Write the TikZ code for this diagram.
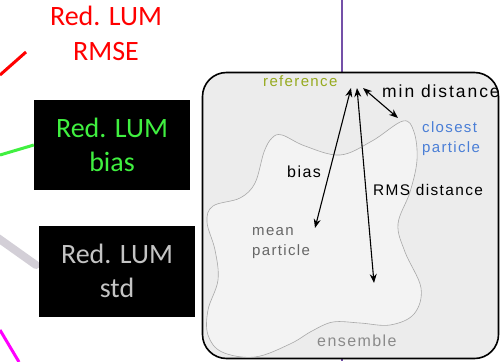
\documentclass[tikz,border=0pt]{standalone}
\usepackage{fontspec}
\setmainfont{Liberation Sans}
\newfontfamily\calib{Carlito}
\newfontfamily\spaced[LetterSpace=9]{Liberation Sans}
\newfontfamily\wide[LetterSpace=11]{Liberation Sans}
\usetikzlibrary{arrows.meta}
\definecolor{redc}{HTML}{FF0000}
\definecolor{greenc}{HTML}{40F040}
\definecolor{stdgray}{HTML}{C4C4C4}
\definecolor{purplec}{HTML}{7450A8}
\definecolor{magentac}{HTML}{FF00FF}
\definecolor{glinec}{HTML}{D3CFD7}
\definecolor{refgreen}{HTML}{96AA1E}
\definecolor{closeblue}{HTML}{4A7ED6}
\definecolor{meangray}{HTML}{666666}
\definecolor{ensgray}{HTML}{8A8A8A}
\definecolor{panelfill}{HTML}{ECECEC}
\definecolor{blobfill}{HTML}{F3F3F3}
\definecolor{blobline}{HTML}{A8A8A8}
\tikzset{
  lbl/.style={inner sep=0pt, anchor=base west, font=\spaced\fontsize{15}{18}\selectfont},
  bigtxt/.style={inner sep=0pt, anchor=base, font=\calib\fontsize{28}{34}\selectfont},
  blackbox/.style={fill=black, inner sep=0pt, align=center, font=\calib\fontsize{28}{34}\selectfont},
  dist/.style={{Stealth[length=9pt,width=7pt]}-{Stealth[length=9pt,width=7pt]}, line width=1.1pt},
  feed/.style={line width=3pt}
}
\begin{document}
\begin{tikzpicture}[x=1pt,y=-1pt]
\useasboundingbox (0,0) rectangle (500,361);
% left side
\coordinate (r1) at (0,75);
\coordinate (r2) at (26,52);
\draw[feed, redc] (r1) -- (r2);
\node[bigtxt, redc] (rmse1) at (106,26) {Red. LUM};
\node[bigtxt, redc] (rmse2) at (106,60) {RMSE};

\coordinate (g1) at (0,155);
\node[blackbox, minimum width=156pt, minimum height=90pt, text=greenc] (bias) at (112,145) {Red. LUM\\bias};
\draw[feed, greenc] (g1) -- (bias.west);

\coordinate (s1) at (-2,238);
\coordinate (s2) at (36,265);
\draw[line width=8pt, line cap=round, glinec] (s1) -- (s2);
\node[blackbox, minimum width=156pt, minimum height=91pt, text=stdgray] (std) at (117,271) {Red. LUM\\std};

\coordinate (m1) at (0,330);
\coordinate (m2) at (19,362);
\draw[feed, magentac] (m1) -- (m2);

% purple line
\coordinate (ptop) at (342,0);
\coordinate (pbot) at (342,361);
\draw[line width=2.6pt, purplec] (ptop) -- (342,80);
\draw[line width=2.6pt, purplec] (342,340) -- (pbot);

% panel
\node[draw, line width=1.6pt, fill=panelfill, rounded corners=24pt, minimum width=296pt, minimum height=286pt, inner sep=0pt] (panel) at (350.5,215.5) {};

% blob
\draw[blobline, fill=blobfill, line width=0.6pt] plot[smooth cycle, tension=0.6] coordinates {
 (282,135) (305,146) (340,155) (372,141) (403,121) (414,132) (417,160) (410,192) (398,224)
 (405,252) (421,288) (414,314) (390,325) (360,323) (333,322) (312,331) (290,344) (255,357)
 (222,352) (208,335) (208,310) (218,280) (215,250) (207,222) (213,206) (240,198) (255,183)
 (264,152) (272,138)};

% labels
\node[lbl, refgreen] (reflbl) at (263,86) {reference};
\node[lbl, font=\wide\fontsize{17.5}{20}\selectfont] (minlbl) at (382,97) {min distance};
\node[lbl, closeblue] (clos1) at (422,132) {closest};
\node[lbl, closeblue] (clos2) at (422,152) {particle};
\node[lbl, font=\spaced\fontsize{16}{20}\selectfont] (biaslbl) at (287,177) {bias};
\node[lbl, font=\spaced\fontsize{15.4}{18}\selectfont] (rmslbl) at (373,195) {RMS distance};
\node[lbl, meangray] (mean1) at (252,235) {mean};
\node[lbl, meangray] (mean2) at (252,255) {particle};
\node[lbl, ensgray, font=\spaced\fontsize{16}{20}\selectfont] (enslbl) at (317,346) {ensemble};

% arrows
\coordinate (refa) at (351,88);
\coordinate (refb) at (357,88);
\coordinate (refc) at (363,88);
\coordinate (meanpt) at (315,228);
\coordinate (rmspt) at (374,283);
\coordinate (closept) at (398,118);
\draw[dist] (refa) -- (meanpt);
\draw[dist] (refb) -- (rmspt);
\draw[dist] (refc) -- (closept);
\end{tikzpicture}
\end{document}
